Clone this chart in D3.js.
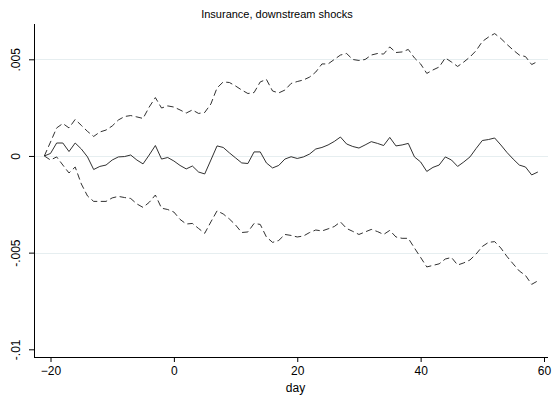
<!DOCTYPE html>
<html>
<head>
<meta charset="utf-8">
<script src="https://cdn.jsdelivr.net/npm/d3@7"></script>
<style>
  html, body { margin: 0; padding: 0; background: #fff; }
  svg { display: block; font-family: "Liberation Sans", Arial, sans-serif; }
</style>
</head>
<body>
<svg id="chart" width="555" height="402"></svg>
<script>
// ---- data (values in units of 0.001) ----
const days = d3.range(-21, 60);
const estimate = [
  0, 0.13, 0.67, 0.67, 0.23, 0.67, 0.36, -0.05, -0.70, -0.54,
  -0.47, -0.21, -0.05, -0.03, 0.05, -0.21, -0.41, 0.05, 0.54, -0.16,
  -0.08, -0.26, -0.49, -0.67, -0.52, -0.83, -0.93, -0.21, 0.52, 0.44,
  0.16, -0.10, -0.36, -0.39, 0.21, 0.21, -0.36, -0.62, -0.49, -0.16,
  -0.04, -0.13, -0.05, 0.10, 0.36, 0.44, 0.57, 0.75, 0.98, 0.62,
  0.49, 0.41, 0.57, 0.74, 0.65, 0.54, 0.96, 0.52, 0.57, 0.65,
  -0.05, -0.31, -0.80, -0.59, -0.47, -0.05, -0.21, -0.54, -0.31, -0.05,
  0.39, 0.80, 0.85, 0.93, 0.57, 0.18, -0.16, -0.47, -0.57, -0.98,
  -0.83
];
const upper = [
  0, 0.72, 1.45, 1.68, 1.45, 1.89, 1.58, 1.27, 1.01, 1.24,
  1.34, 1.55, 1.86, 2.04, 2.09, 2.02, 1.94, 2.53, 3.02, 2.48,
  2.59, 2.53, 2.38, 2.22, 2.38, 2.20, 2.25, 2.69, 3.52, 3.83,
  3.80, 3.62, 3.41, 3.23, 3.28, 3.83, 3.96, 3.36, 3.26, 3.41,
  3.75, 3.85, 3.93, 4.08, 4.34, 4.76, 4.76, 4.99, 5.22, 5.30,
  4.99, 4.94, 4.99, 5.22, 5.30, 5.27, 5.64, 5.35, 5.38, 5.51,
  5.07, 4.76, 4.27, 4.45, 4.60, 5.07, 4.86, 4.63, 4.86, 5.12,
  5.45, 5.92, 6.15, 6.33, 6.08, 5.77, 5.48, 5.22, 5.14, 4.73,
  4.89
];
const lower = [
  0, -0.21, -0.05, -0.47, -0.88, -0.57, -1.45, -2.07, -2.35, -2.35,
  -2.35, -2.17, -2.09, -2.15, -2.20, -2.48, -2.66, -2.40, -2.02, -2.70,
  -2.77, -2.90, -3.28, -3.52, -3.49, -3.75, -4.00, -3.41, -2.84, -3.00,
  -3.26, -3.57, -3.96, -3.93, -3.49, -3.54, -4.19, -4.47, -4.37, -4.06,
  -4.11, -4.19, -4.14, -3.96, -3.83, -3.88, -3.77, -3.65, -3.41, -3.75,
  -3.90, -4.06, -3.93, -3.80, -3.91, -4.06, -3.85, -4.19, -4.26, -4.26,
  -4.76, -5.25, -5.74, -5.66, -5.58, -5.33, -5.25, -5.64, -5.53, -5.38,
  -5.07, -4.68, -4.47, -4.43, -4.76, -5.20, -5.58, -5.95, -6.18, -6.64,
  -6.46
];
const xTicks = [-20, 0, 20, 40, 60];
const yTicks = [-0.01, -0.005, 0, 0.005];
const yTickLabels = ["-.01", "-.005", "0", ".005"];
const gridTicks = [-0.005, 0, 0.005];
const title = "Insurance, downstream shocks";
const xTitle = "day";

// ---- layout ----
const svg = d3.select("#chart");
const axisX0 = 34, axisX1 = 548, axisYTop = 24, axisYBottom = 357;
const x = d3.scaleLinear().domain([-20, 60]).range([50.5, 544]);
const y = d3.scaleLinear().domain([-0.01, 0.005]).range([349.3, 59.3]);

// gridlines
svg.append("g").selectAll("line").data(gridTicks).join("line")
  .attr("x1", axisX0 + 1).attr("x2", axisX1)
  .attr("y1", d => Math.round(y(d)) + 0.5).attr("y2", d => Math.round(y(d)) + 0.5)
  .attr("stroke", "#e6eef0").attr("stroke-width", 1);

// lines
const series = [
  { vals: upper, dash: "6.5,3.5" },
  { vals: lower, dash: "6.5,3.5" },
  { vals: estimate, dash: null }
];
const line = d3.line().x(d => x(d[0])).y(d => y(d[1] / 1000));
series.forEach(s => {
  svg.append("path")
    .datum(days.map((d, i) => [d, s.vals[i]]))
    .attr("d", line)
    .attr("fill", "none")
    .attr("stroke", "#1a1a1a")
    .attr("stroke-width", 0.9)
    .attr("stroke-dasharray", s.dash);
});

// y axis
const yAxis = svg.append("g").attr("transform", `translate(${axisX0},0)`)
  .call(d3.axisLeft(y).tickValues(yTicks).tickSize(5).tickFormat((d, i) => yTickLabels[i]));
yAxis.select(".domain").attr("d", `M0.5,${axisYTop}V${axisYBottom}`).attr("stroke", "#000");
yAxis.selectAll(".tick line").attr("stroke", "#000");
yAxis.selectAll(".tick text")
  .attr("font-size", 12).attr("fill", "#000")
  .attr("text-anchor", "middle")
  .attr("x", 0).attr("dy", 0)
  .attr("transform", "translate(-14,0) rotate(-90)");

// x axis
const xAxis = svg.append("g").attr("transform", `translate(0,${axisYBottom})`)
  .call(d3.axisBottom(x).tickValues(xTicks).tickSize(5).tickFormat(d3.format("d")));
xAxis.select(".domain").attr("d", `M${axisX0},0.5H${axisX1}`).attr("stroke", "#000");
xAxis.selectAll(".tick line").attr("stroke", "#000");
xAxis.selectAll(".tick text").attr("font-size", 12).attr("fill", "#000").attr("y", 9).attr("dy", "0.71em");

// titles
svg.append("text").attr("x", 277).attr("y", 18).attr("text-anchor", "middle")
  .attr("font-size", 11).attr("fill", "#000").text(title);
svg.append("text").attr("x", 295.5).attr("y", 392).attr("text-anchor", "middle")
  .attr("font-size", 12).attr("fill", "#000").text(xTitle);
</script>
</body>
</html>
